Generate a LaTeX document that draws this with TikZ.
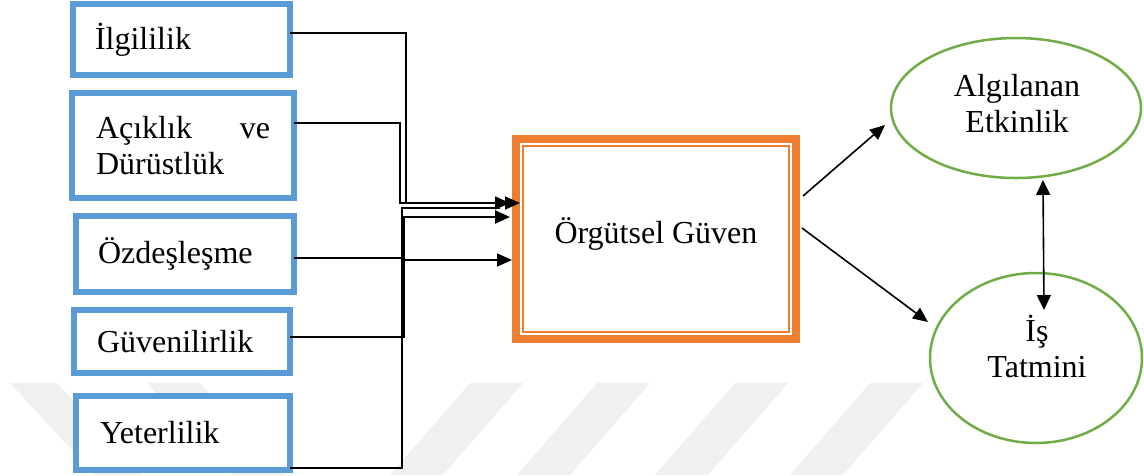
\documentclass[tikz,border=0pt]{standalone}
\usepackage{fontspec}
\setmainfont{Liberation Serif}
\usetikzlibrary{arrows.meta,shapes.geometric,calc}
\definecolor{boxblue}{HTML}{5B9BD5}
\definecolor{trustorange}{HTML}{ED7D31}
\definecolor{outgreen}{HTML}{70AD47}
\definecolor{markgray}{HTML}{F0F0F0}

\begin{document}
\begin{tikzpicture}[x=1pt,y=-1pt,
  font=\fontsize{32}{36.5}\selectfont,
  every node/.style={outer sep=0pt},
  factor/.style={draw=boxblue, line width=6pt, fill=white, rectangle,
    align=left, inner ysep=0pt},
  trustbox/.style={draw=trustorange, line width=8pt, fill=white, rectangle,
    minimum width=280pt, minimum height=200pt, inner sep=0pt},
  outcome/.style={draw=outgreen, line width=2.5pt, fill=white, ellipse, inner sep=0pt},
  label/.style={align=center, inner sep=0pt},
  conn/.style={draw=black, line width=1.6pt},
  head/.style={-{Triangle[length=15pt,width=13pt]}},
  twohead/.style={{Triangle[length=15pt,width=14pt]}-{Triangle[length=15pt,width=14pt]}}]

\useasboundingbox (0,0) rectangle (1144,475);

% faint background stripes
\fill[markgray] (10,383) -- (57,383) -- (142,475) -- (95,475) -- cycle;
\fill[markgray] (147,383) -- (200,383) -- (285,475) -- (232,475) -- cycle;
\foreach \a in {470,597,735,870}
  \fill[markgray] (\a,383) -- (\a+53,383) -- (\a-27,475) -- (\a-80,475) -- cycle;

% antecedent factors
\node[factor, minimum width=217pt, minimum height=71pt, inner xsep=22pt, text width=173pt]
  (b1) at (181.5,39.5) {İlgililik};
\node[factor, minimum width=222pt, minimum height=105pt, inner xsep=24pt, text width=174pt]
  (b2) at (183,145.5) {\makebox[174pt][s]{Açıklık\hfill ve}\\Dürüstlük};
\node[factor, minimum width=218pt, minimum height=76pt, inner xsep=22pt, text width=174pt]
  (b3) at (185,254) {Özdeşleşme};
\node[factor, minimum width=216pt, minimum height=63pt, inner xsep=23pt, text width=170pt]
  (b4) at (182,341.5) {Güvenilirlik};
\node[factor, minimum width=214pt, minimum height=74pt, inner xsep=24pt, text width=166pt]
  (b5) at (183,433) {Yeterlilik};

% central construct
\node[trustbox] (og) at (656,239) {};
\draw[trustorange, line width=1.5pt]
  ([shift={(7pt,-7pt)}]og.north west) rectangle ([shift={(-7pt,7pt)}]og.south east);
\node[label] (ogt) at (656,234) {Örgütsel Güven};

% outcomes
\node[outcome, minimum width=250pt, minimum height=140pt] (e1) at (1016,108) {};
\node[label] (e1t) at (1017,103.5) {Algılanan\\Etkinlik};
\node[outcome, minimum width=212pt, minimum height=170pt] (e2) at (1036,358) {};
\node[label] (e2t) at (1037,346.5) {İş\\Tatmini};

% connectors into the central box
\draw[conn, head] ($(b1.east)+(0,-6.5)$) -- ++(116,0) |- ($(og.west)+(4,-36)$);
\draw[conn, head] ($(b2.east)+(0,-22.5)$) -- ++(106,0) |- ($(og.west)+(-6,-36)$);
\draw[conn, head] ($(b3.east)+(0,4)$) -- ++(109,0) |- ($(og.west)+(-4,21)$);
\draw[conn] ($(b5.east)+(0,35)$) -- ++(112,0) |- ($(og.west)+(-16,-31)$);
\draw[conn, line width=2.4pt, head] ($(b4.east)+(0,-4.5)$) -- ++(114,0) |- ($(og.west)+(-6,-22)$);

% connectors to the outcomes
\draw[conn, head] ($(og.east)+(7,-43)$) -- ($(e1.west)+(-6,17)$);
\draw[conn, head] ($(og.east)+(6,-11)$) -- ($(e2.west)+(-2,-36)$);
\draw[conn, twohead] ($(e1.south)+(27,2)$) -- ($(e2.north)+(8,37)$);

\end{tikzpicture}
\end{document}
